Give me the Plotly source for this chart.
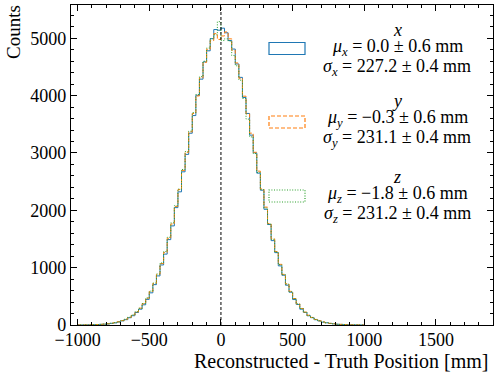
import numpy as np
import plotly.graph_objects as go

# === Data: histogram bin counts (25 mm bins from -1000 to 1000 mm) ===
bin_start = -1000
bin_width = 25

counts_x = [1, 1, 2, 4, 5, 7, 11, 14, 19, 29, 37, 53, 72, 93, 127, 162, 218, 276, 352, 447,
            561, 704, 856, 1047, 1236, 1489, 1728, 2047, 2322, 2671, 2975, 3344, 3652, 4006, 4287, 4588, 4781, 4993, 5152, 5140,
            5176, 5095, 4961, 4812, 4552, 4318, 3968, 3689, 3311, 3002, 2648, 2351, 2018, 1752, 1471, 1262, 1031, 868, 694, 572,
            444, 359, 276, 219, 161, 128, 92, 71, 50, 39, 27, 21, 13, 10, 6, 5, 3, 2, 1, 0]
counts_y = [1, 2, 2, 4, 6, 8, 11, 16, 22, 31, 41, 56, 77, 101, 134, 174, 229, 293, 371, 468,
            585, 726, 884, 1071, 1266, 1512, 1762, 2068, 2361, 2696, 3012, 3368, 3688, 3994, 4309, 4580, 4808, 4960, 5080, 4980,
            5040, 5110, 4990, 4790, 4570, 4302, 3990, 3680, 3345, 3012, 2683, 2372, 2056, 1771, 1503, 1281, 1058, 883, 718, 587,
            461, 370, 288, 225, 170, 132, 97, 74, 54, 40, 29, 22, 14, 11, 7, 5, 3, 2, 1, 1]
counts_z = [1, 1, 3, 3, 6, 8, 12, 16, 21, 31, 42, 57, 76, 102, 136, 176, 231, 291, 374, 471,
            590, 731, 889, 1082, 1280, 1530, 1781, 2080, 2370, 2712, 3025, 3380, 3705, 4020, 4330, 4600, 4830, 4990, 5060, 5290,
            4960, 4990, 4950, 4700, 4520, 4270, 3950, 3590, 3280, 2990, 2660, 2360, 2040, 1760, 1495, 1270, 1050, 878, 712, 580,
            458, 366, 286, 222, 168, 130, 96, 73, 53, 39, 28, 21, 14, 10, 7, 5, 3, 2, 1, 0]

axis_names = ["x", "y", "z"]
mu_vals = ["0.0", "\u22120.3", "\u22121.8"]
sigma_vals = ["227.2", "231.1", "231.2"]
mu_err = "0.6"
sigma_err = "0.4"

colors = ["#1f77b4", "#ff7f0e", "#2ca02c"]
dashes = ["solid", "4px,2px", "1px,1.6px"]

FONT = "Liberation Serif, Times New Roman, serif"

fig = go.Figure()


def step_xy(counts):
    n = len(counts)
    edges = bin_start + bin_width * np.arange(n + 1)
    xs = np.concatenate([[edges[0]], edges, [edges[-1]]])
    ys = np.concatenate([[0], counts, [counts[-1], 0]])
    return xs, ys


for counts, col, dash in zip([counts_x, counts_y, counts_z], colors, dashes):
    xs, ys = step_xy(counts)
    fig.add_trace(go.Scatter(x=xs, y=ys, mode="lines", line_shape="hv",
                             line=dict(color=col, width=1, dash=dash),
                             showlegend=False, hoverinfo="skip"))

fig.add_vline(x=0, line=dict(color="black", width=1, dash="3px,2px"))

# custom legend: patch + three-line label
patch_y = [48.5, 122, 196]     # pixel centres of the patches
label_top = [30, 101, 177]
plot_top, plot_bot = 5, 325
plot_l, plot_r = 71, 493


def py(p):
    # pixel row -> paper coordinate
    return (plot_bot - p) / (plot_bot - plot_top)


def px(p):
    return (p - plot_l) / (plot_r - plot_l)


for i in range(3):
    fig.add_shape(type="rect", xref="paper", yref="paper",
                  x0=px(269), x1=px(305), y0=py(patch_y[i] + 6), y1=py(patch_y[i] - 6),
                  line=dict(color=colors[i], width=1.2, dash=dashes[i]), fillcolor="white")
    n = axis_names[i]
    lines = [f"<i>{n}</i>",
             f"<i>\u03bc</i><sub><i>{n}</i></sub> = {mu_vals[i]} \u00b1 {mu_err} mm",
             f"<i>\u03c3</i><sub><i>{n}</i></sub> = {sigma_vals[i]} \u00b1 {sigma_err} mm"]
    for j, txt in enumerate(lines):
        yc = [label_top[i], label_top[i] + 17.5, label_top[i] + 37][j]
        fig.add_annotation(text=txt, xref="paper", yref="paper", x=px(397), y=py(yc),
                           xanchor="center", yanchor="middle", showarrow=False,
                           font=dict(family=FONT, size=18, color="black"))

fig.add_annotation(text="Counts", xref="paper", yref="paper", x=px(14), y=py(3),
                   xanchor="center", yanchor="top", textangle=-90, showarrow=False,
                   font=dict(family=FONT, size=19, color="black"))
fig.add_annotation(text="Reconstructed - Truth Position [mm]", xref="paper", yref="paper",
                   x=px(490), y=py(361), xanchor="right", yanchor="middle", showarrow=False,
                   font=dict(family=FONT, size=20, color="black"))

axis_common = dict(showline=True, mirror="ticks", linecolor="black", linewidth=1.3,
                   ticks="inside", ticklen=6, tickwidth=1, tickcolor="black",
                   showgrid=False, zeroline=False, automargin=False,
                   tickfont=dict(family=FONT, size=18, color="black"))

fig.update_xaxes(range=[-1046, 1898], dtick=500, tick0=0, ticklabelstandoff=-2,
                 minor=dict(ticks="inside", dtick=100, ticklen=3, tickcolor="black", showgrid=False),
                 **axis_common)
fig.update_yaxes(range=[0, 5580], dtick=1000, tick0=0,
                 minor=dict(ticks="inside", dtick=200, ticklen=3, tickcolor="black", showgrid=False),
                 **axis_common)

fig.update_layout(template="none", width=499, height=378, plot_bgcolor="white", paper_bgcolor="white",
                  margin=dict(l=71, r=6, t=5, b=53),
                  font=dict(family=FONT, color="black"))

fig.write_html("out.html", config={"displayModeBar": False},
               post_script="document.body.style.margin='0';")
